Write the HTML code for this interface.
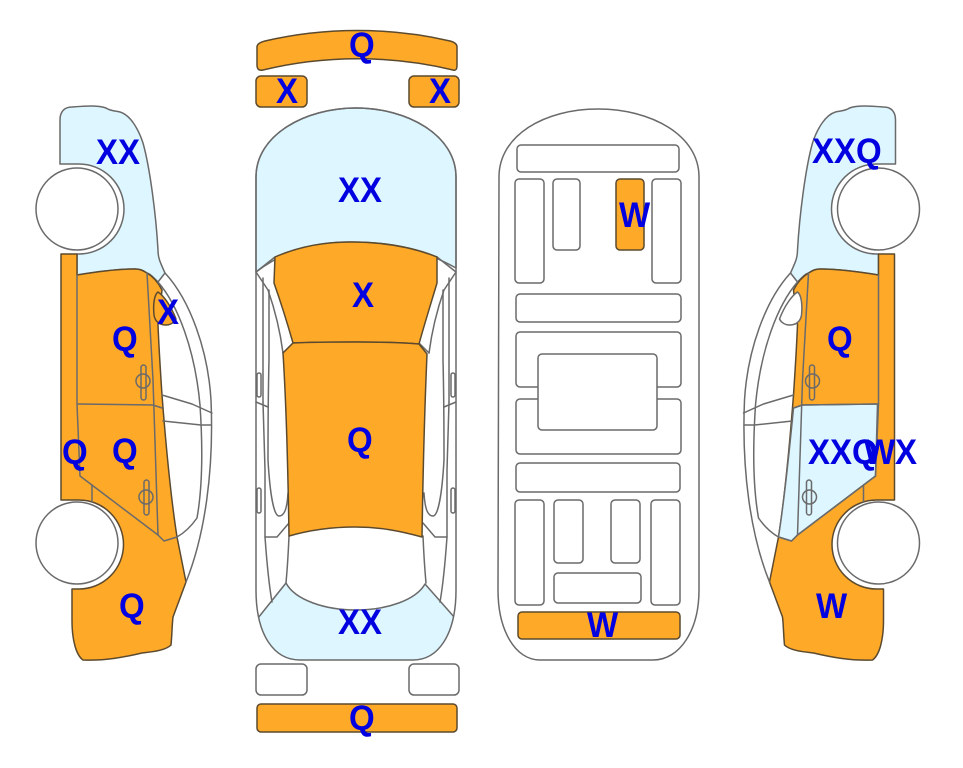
<!DOCTYPE html>
<html>
<head>
<meta charset="utf-8">
<style>
html,body{margin:0;padding:0;background:#fff;width:963px;height:768px;overflow:hidden}
svg{display:block}
text{font-family:"Liberation Sans",Arial,sans-serif;font-weight:bold;font-size:33px;fill:#0000e0;stroke:none}
.o{fill:#ffa928}.b{fill:#ddf6ff}.w{fill:#fff}
.s{stroke:#6a6a6a;stroke-width:1.5;stroke-linejoin:round;stroke-linecap:round}
.k{stroke:#5c4a2e}
.n{fill:none}
</style>
</head>
<body>
<svg width="963" height="768" viewBox="0 0 963 768" xmlns="http://www.w3.org/2000/svg">
<defs>
  <path id="glass" d="M60 164V120C60 112 64 107 72 107C85 106 98 105 106 108C110 111 116 111 120 112C130 115 138 128 143 143C150 168 156 215 158 250C158 258 160 262 165 273L158 282C152 276 150 274 147 273C142 270 140 269 135 269C115 269 95 272 77 275V254H79A45 45 0 0 0 79 164Z"/>
  <path id="body" d="M61 254H77V275C95 272 115 269 135 269C140 269 142 270 147 273C152 276 158 282 162 290L158 325C159 350 161 380 162 395C167 460 172 505 177 537L186 582L173 617C172 625 172 635 171 645C165 651 150 652 142 653C125 657 105 661 83 660C76 655 72 640 72 620V589H79A44.5 44.5 0 0 0 79 500H61Z"/>
  <path id="door" d="M78 404L153 405L162 408C167 460 172 505 177 537L164 541L158 535L80 476Z"/>
  <path id="blob" d="M158 292C154 295 153 305 154 315C155 322 160 325 166 325C170 325 174 323 176 319C171 306 164 296 158 292Z"/>
  <path id="outline" d="M256 177C256 135 305 108 356 108C407 108 456 135 456 177V590C456 635 438 660 413 660H300C274 660 256 635 256 590Z"/>
  <clipPath id="outlineClip"><use href="#outline"/></clipPath>
  <g id="sideLines" class="n s">
    <path d="M165 273C190 300 208 350 211 400C214 470 205 535 186 582"/>
    <path d="M158 282C178 305 195 350 200 405C203 450 202 490 197 518C190 528 184 533 177 537"/>
    <path d="M162 395L192 404L212 413M163 421L201 425L211 425"/>
    <path d="M77 275V404L80 476L158 535L164 541L177 537"/>
    <path d="M147 273L153 380L158 535"/>
    <path d="M78 404L153 405L162 408"/>
    <path d="M92 485V502"/>
    <rect x="141" y="365" width="5" height="35" rx="2.5"/>
    <circle cx="143" cy="381" r="7"/>
    <rect x="144" y="480" width="5" height="35" rx="2.5"/>
    <circle cx="146" cy="497" r="7"/>
  </g>
  <g id="wheels">
    <circle class="w s" cx="77" cy="209" r="41"/>
    <circle class="w s" cx="77" cy="543" r="41"/>
  </g>
  <g id="topLines" class="n s">
    <path d="M256 272L268 290C275 310 280 330 283 353"/>
    <path d="M263 278V402"/>
    <path d="M269 290V360C268 400 268 440 268 460C270 495 274 516 279 516C284 516 287 510 288 493"/>
    <path d="M263 402L265 470L265 537C267 565 269 585 272 602"/>
    <path d="M256 402L268 407"/>
    <path d="M265 537H277L289 523"/>
    <rect x="257" y="373" width="4" height="24" rx="2"/>
    <rect x="257" y="488" width="4" height="25" rx="2"/>
    <path d="M275 257L256 272"/>
    <path d="M293 343L283 353"/>
    <path d="M289 536C288 560 287 572 286 583"/>
  </g>
</defs>

<!-- left car -->
<use href="#glass" class="b s"/>
<use href="#body" class="o s k"/>
<use href="#blob" class="o s k"/>
<use href="#sideLines"/>
<use href="#wheels"/>

<!-- right car -->
<g transform="matrix(-1 0 0 1 955.5 0)">
  <use href="#glass" class="b s"/>
  <use href="#body" class="o s k"/>
  <use href="#door" class="b s"/>
  <use href="#blob" class="w s"/>
  <use href="#sideLines"/>
  <use href="#wheels"/>
</g>

<!-- center car -->
<path class="o s k" d="M257 47C257 44 261 42 265 41C325 27 390 27 450 41C454 42 457 44 457 47V65C457 69 456 71 453 70C390 55 325 55 263 70C259 71 257 69 257 65Z"/>
<rect class="o s k" x="256" y="76" width="51" height="31" rx="5"/>
<rect class="o s k" x="409" y="76" width="50" height="31" rx="5"/>
<use href="#outline" class="w"/>
<path class="b s" d="M256 272V177C256 135 305 108 356 108C407 108 456 135 456 177V268C420 248 390 242 350 242C315 242 285 250 256 272Z"/>
<g clip-path="url(#outlineClip)">
  <path class="b s" d="M258 618L286 583C295 600 325 610 356 610C387 610 416 600 425 584L455 618L470 680H240Z"/>
</g>
<use href="#topLines"/>
<use href="#topLines" transform="matrix(-1 0 0 1 712 0)"/>
<use href="#outline" class="n s"/>
<path class="o s k" d="M275 257C300 246 325 242 350 242C380 242 410 246 437 257L437 283C432 300 425 322 419 344C395 342 375 342 355 342C335 342 315 342 293 343C287 322 280 300 274 283Z"/>
<path class="o s k" d="M293 343C315 342 335 342 355 342C375 342 395 342 419 344L427 354C425 400 423 470 422 537C400 531 380 527 355 527C330 527 310 530 289 536C288 470 286 400 283 353Z"/>
<rect class="w s" x="256" y="664" width="51" height="31" rx="5"/>
<rect class="w s" x="409" y="664" width="50" height="31" rx="5"/>
<rect class="o s k" x="257" y="704" width="200" height="28" rx="4"/>

<!-- underside -->
<path class="w s" d="M499 177C499 135 545 109 598 109C651 109 699 135 699 177V590C699 630 680 660 653 660H540C515 660 498 630 498 590Z"/>
<g class="w s">
  <rect x="517" y="145" width="162" height="27" rx="4"/>
  <rect x="515" y="179" width="29" height="104" rx="4"/>
  <rect x="553" y="179" width="27" height="71" rx="4"/>
  <rect x="652" y="179" width="29" height="104" rx="4"/>
  <rect x="516" y="294" width="165" height="28" rx="4"/>
  <rect x="516" y="332" width="165" height="55" rx="4"/>
  <rect x="516" y="399" width="165" height="55" rx="4"/>
  <rect x="538" y="354" width="119" height="76" rx="4"/>
  <rect x="516" y="463" width="164" height="29" rx="4"/>
  <rect x="515" y="500" width="29" height="105" rx="4"/>
  <rect x="554" y="500" width="29" height="63" rx="4"/>
  <rect x="611" y="500" width="29" height="63" rx="4"/>
  <rect x="651" y="500" width="29" height="105" rx="4"/>
  <rect x="554" y="573" width="87" height="30" rx="4"/>
</g>
<rect class="o s k" x="616" y="179" width="28" height="71" rx="4"/>
<rect class="o s k" x="518" y="612" width="162" height="27" rx="4"/>

<!-- labels -->
<text transform="translate(96 164) scale(1 1.08)">XX</text>
<text transform="translate(157 324) scale(1 1.08)">X</text>
<text transform="translate(112 351) scale(1 1.08)">Q</text>
<text transform="translate(62 464) scale(1 1.08)">Q</text>
<text transform="translate(112 463) scale(1 1.08)">Q</text>
<text transform="translate(119 618) scale(1 1.08)">Q</text>
<text transform="translate(349 57) scale(1 1.08)">Q</text>
<text transform="translate(276 103) scale(1 1.08)">X</text>
<text transform="translate(429 103) scale(1 1.08)">X</text>
<text transform="translate(338 202) scale(1 1.08)">XX</text>
<text transform="translate(352 307) scale(1 1.08)">X</text>
<text transform="translate(347 452) scale(1 1.08)">Q</text>
<text transform="translate(338 634) scale(1 1.08)">XX</text>
<text transform="translate(349 730) scale(1 1.08)">Q</text>
<text transform="translate(619 227) scale(1 1.08)">W</text>
<text transform="translate(587 637) scale(1 1.08)">W</text>
<text transform="translate(812 163) scale(1 1.08)">XX</text>
<text transform="translate(856 163) scale(1 1.08)">Q</text>
<text transform="translate(827 351) scale(1 1.08)">Q</text>
<text transform="translate(808 464) scale(1 1.08)">XX</text>
<text transform="translate(852 464) scale(1 1.08)">Q</text>
<text transform="translate(864 464) scale(1 1.08)">W</text>
<text transform="translate(895 464) scale(1 1.08)">X</text>
<text transform="translate(816 618) scale(1 1.08)">W</text>
</svg>
</body>
</html>
